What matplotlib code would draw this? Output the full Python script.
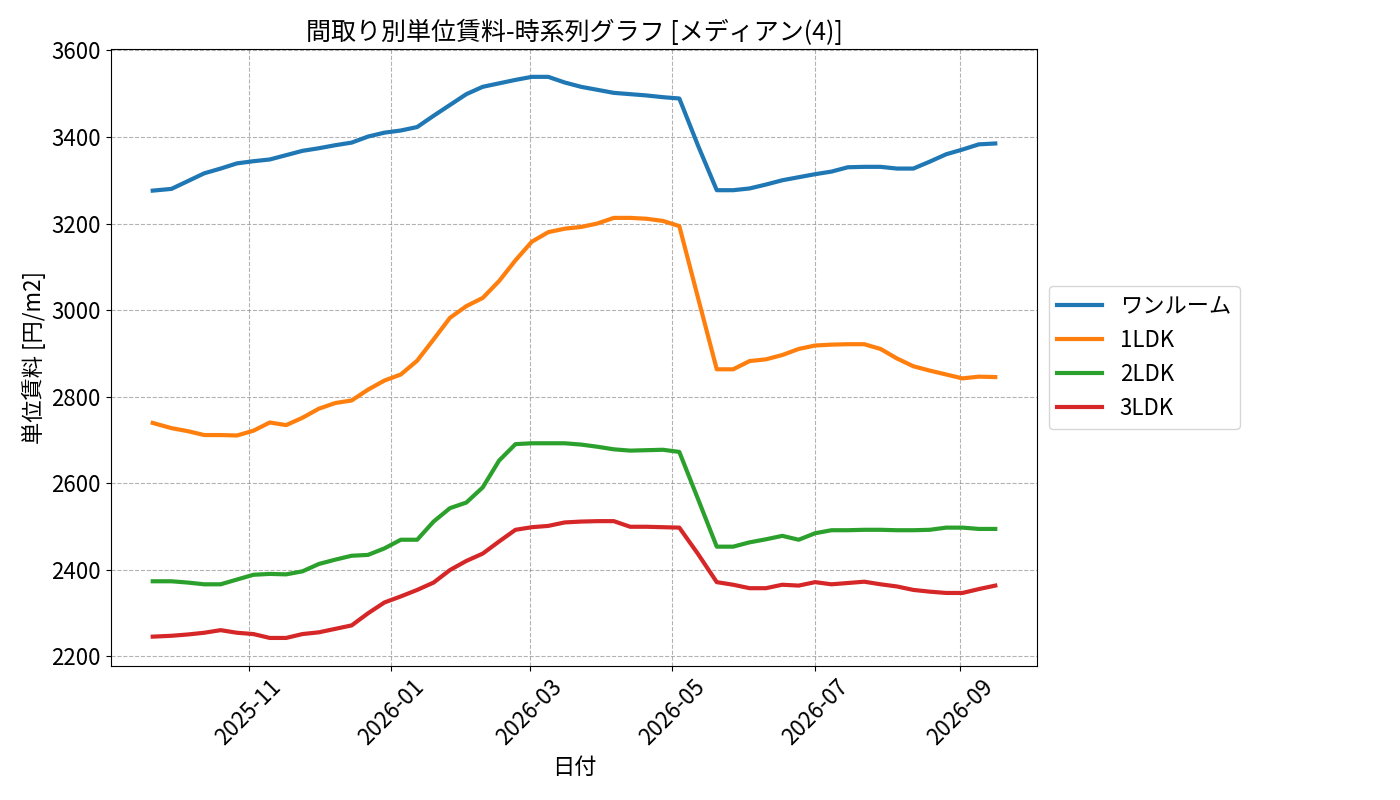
import matplotlib
matplotlib.use("Agg")
import matplotlib.pyplot as plt
import matplotlib.dates as mdates
import pandas as pd

plt.rcParams['font.family'] = ['Noto Sans CJK JP', 'DejaVu Sans']

dates = pd.to_datetime([
    "2025-09-21", "2025-09-29", "2025-10-06", "2025-10-13", "2025-10-20", "2025-10-27",
    "2025-11-03", "2025-11-10", "2025-11-17", "2025-11-24", "2025-12-01", "2025-12-08",
    "2025-12-15", "2025-12-22", "2025-12-29", "2026-01-05", "2026-01-12", "2026-01-19",
    "2026-01-26", "2026-02-02", "2026-02-09", "2026-02-16", "2026-02-23", "2026-03-02",
    "2026-03-09", "2026-03-16", "2026-03-23", "2026-03-30", "2026-04-06", "2026-04-13",
    "2026-04-20", "2026-04-27", "2026-05-04", "2026-05-12", "2026-05-20", "2026-05-27",
    "2026-06-03", "2026-06-10", "2026-06-17", "2026-06-24", "2026-07-01", "2026-07-08",
    "2026-07-15", "2026-07-22", "2026-07-29", "2026-08-05", "2026-08-12", "2026-08-19",
    "2026-08-26", "2026-09-02", "2026-09-09", "2026-09-16",
])

one_room = [3276, 3280, 3298, 3316, 3327, 3339, 3344, 3348, 3358, 3368, 3374, 3381,
            3387, 3401, 3410, 3415, 3423, 3449, 3474, 3499, 3516, 3524, 3532, 3539,
            3539, 3526, 3516, 3509, 3502, 3499, 3496, 3492, 3489, 3380, 3277, 3277,
            3281, 3290, 3300, 3307, 3314, 3320, 3330, 3331, 3331, 3327, 3327, 3343,
            3360, 3371, 3383, 3385]
ldk1 = [2739, 2727, 2720, 2711, 2711, 2710, 2721, 2740, 2734, 2751, 2772, 2785,
        2791, 2816, 2837, 2851, 2883, 2932, 2982, 3009, 3028, 3067, 3115, 3158,
        3180, 3188, 3192, 3200, 3213, 3213, 3211, 3206, 3194, 3028, 2863, 2863,
        2882, 2886, 2896, 2910, 2918, 2920, 2921, 2921, 2910, 2888, 2870, 2860,
        2851, 2842, 2846, 2845]
ldk2 = [2373, 2373, 2370, 2366, 2366, 2377, 2388, 2390, 2389, 2396, 2413, 2423,
        2432, 2434, 2449, 2469, 2469, 2511, 2542, 2555, 2590, 2652, 2690, 2692,
        2692, 2692, 2689, 2684, 2678, 2675, 2676, 2677, 2672, 2563, 2453, 2453,
        2463, 2470, 2478, 2469, 2484, 2491, 2491, 2492, 2492, 2491, 2491, 2492,
        2497, 2497, 2494, 2494]
ldk3 = [2245, 2247, 2250, 2254, 2260, 2254, 2251, 2242, 2242, 2251, 2255, 2263,
        2271, 2299, 2324, 2338, 2353, 2370, 2399, 2420, 2437, 2465, 2492, 2498,
        2501, 2509, 2511, 2512, 2512, 2499, 2499, 2498, 2497, 2436, 2371, 2365,
        2357, 2357, 2365, 2363, 2371, 2366, 2369, 2372, 2366, 2361, 2353, 2349,
        2346, 2346, 2355, 2363]

series = [("ワンルーム", one_room, "#1f77b4"), ("1LDK", ldk1, "#ff7f0e"),
          ("2LDK", ldk2, "#2ca02c"), ("3LDK", ldk3, "#d62728")]

fig, ax = plt.subplots(figsize=(14, 8), dpi=100)
for name, vals, col in series:
    ax.plot(dates, vals, label=name, color=col, linewidth=3)

ax.set_title("間取り別単位賃料-時系列グラフ [メディアン(4)]", fontsize=18)
ax.set_xlabel("日付", fontsize=16)
ax.set_ylabel("単位賃料 [円/m2]", fontsize=16)
ax.xaxis.set_major_locator(mdates.MonthLocator(bymonth=[1, 3, 5, 7, 9, 11]))
ax.xaxis.set_major_formatter(mdates.DateFormatter("%Y-%m"))
ax.tick_params(axis='both', labelsize=16)
plt.setp(ax.get_xticklabels(), rotation=45)
ax.grid(True, linestyle='--', color='gray', alpha=0.6)
ax.legend(loc='center left', bbox_to_anchor=(1.0, 0.5), fontsize=16)
fig.subplots_adjust(left=0.079, right=0.741, top=0.939, bottom=0.1675)
fig.savefig("out.png", dpi=100)
